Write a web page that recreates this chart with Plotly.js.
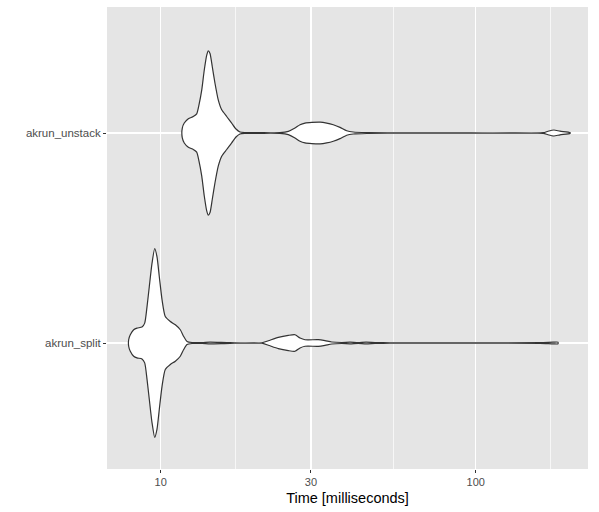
<!DOCTYPE html>
<html>
<head>
<meta charset="utf-8">
<script src="https://cdn.plot.ly/plotly-3.0.1.min.js"></script>
<style>html,body{margin:0;padding:0;background:#fff;}#chart{width:599px;height:512px;}</style>
</head>
<body>
<div id="chart"></div>
<script>
// Categories (bottom to top)
var categories = ["akrun_split", "akrun_unstack"];

// Violin profiles: time (ms) and relative density
var splitTime = [7.912, 8.006, 8.208, 8.408, 8.721, 8.896, 9.049, 9.200, 9.384, 9.572, 9.734, 9.899, 10.10, 10.34, 10.73, 11.13, 11.54, 11.83, 12.12, 12.57, 13.53, 14.34, 16.60, 20.93, 21.96, 23.62, 25.42, 26.69, 27.69, 28.72, 31.65, 33.24, 34.90, 37.54, 39.90, 42.31, 44.85, 47.91, 53.45, 82.86, 160.0, 176.0, 182.5];
var splitDensity = [3.3, 8.3, 13.3, 15, 16, 20, 36.6, 56.6, 80, 95, 86.6, 66.6, 43.3, 26.6, 21.6, 18.3, 13.3, 6.6, 1.6, 0.5, 0.4, 0.8, 0.3, 0.2, 2.3, 5.7, 7.7, 8.3, 5, 3.3, 3.3, 2.3, 1, 0.5, 0.8, 0.4, 0.8, 0.4, 0.25, 0.2, 0.3, 0.8, 0.8];

var unstackTime = [11.71, 11.88, 12.24, 12.69, 13.01, 13.23, 13.50, 13.75, 14.00, 14.16, 14.34, 14.58, 14.87, 15.23, 15.62, 16.20, 16.80, 17.34, 17.85, 18.52, 20.67, 23.91, 25.42, 26.69, 27.69, 28.72, 30.16, 32.05, 33.65, 35.31, 37.09, 38.95, 40.87, 45.08, 53.45, 82.86, 163.9, 169.6, 177.2, 185.2, 199.2];
var unstackDensity = [5, 10, 14.3, 16.6, 19.3, 28.3, 43.3, 63.3, 78.3, 82.6, 80, 66.6, 50, 33.3, 23.3, 16.6, 10, 4, 1, 0.4, 0.3, 0.4, 1.7, 5, 8.3, 10, 10.7, 11, 10, 8.3, 5.7, 2.3, 1, 0.4, 0.25, 0.2, 0.3, 1.8, 3, 1.8, 0.5];

// Axis breaks
var majorBreaks = [10, 30, 100];
var majorLabels = ["10", "30", "100"];
var minorBreaks = [17.32, 54.77, 173.2];

var maxDensity = Math.max.apply(null, splitDensity.concat(unstackDensity));
var halfMax = 0.45;

function violin(times, dens, center) {
  var xs = [], ys = [];
  for (var i = 0; i < times.length; i++) {
    xs.push(times[i]);
    ys.push(center + dens[i] / maxDensity * halfMax);
  }
  for (var j = times.length - 1; j >= 0; j--) {
    xs.push(times[j]);
    ys.push(center - dens[j] / maxDensity * halfMax);
  }
  xs.push(times[0]);
  ys.push(center + dens[0] / maxDensity * halfMax);
  return {
    type: "scatter", mode: "lines", x: xs, y: ys,
    fill: "toself", fillcolor: "#FFFFFF",
    line: {color: "#333333", width: 1.2, shape: "spline", smoothing: 0.6},
    hoverinfo: "skip", showlegend: false
  };
}

var data = [
  violin(splitTime, splitDensity, 1),
  violin(unstackTime, unstackDensity, 2)
];

var layout = {
  width: 599, height: 512,
  margin: {l: 107, r: 11, t: 7, b: 43},
  paper_bgcolor: "#FFFFFF",
  plot_bgcolor: "#E5E5E5",
  font: {family: "Liberation Sans, Arial, sans-serif", color: "#4D4D4D"},
  showlegend: false,
  xaxis: {
    type: "log",
    range: [0.82952, 2.3565],
    tickmode: "array", tickvals: majorBreaks, ticktext: majorLabels,
    showgrid: true, gridcolor: "#FFFFFF", gridwidth: 1.4,
    ticks: "outside", ticklen: 3, tickwidth: 1, tickcolor: "#333333",
    tickfont: {size: 11, color: "#4D4D4D"},
    zeroline: false, showline: false,
    minor: {tickmode: "array", tickvals: minorBreaks, showgrid: true, gridcolor: "#FFFFFF", gridwidth: 0.7, ticks: ""},
    title: {text: "Time [milliseconds]", font: {size: 14.5, color: "#000000"}, standoff: 5}
  },
  yaxis: {
    range: [0.4, 2.6],
    tickmode: "array", tickvals: [1, 2], ticktext: categories,
    showgrid: true, gridcolor: "#FFFFFF", gridwidth: 1.4,
    ticks: "outside", ticklen: 3, tickwidth: 1, tickcolor: "#333333",
    tickfont: {size: 11.5, color: "#4D4D4D"},
    zeroline: false, showline: false, fixedrange: true
  }
};

Plotly.newPlot("chart", data, layout, {staticPlot: true, displayModeBar: false});
</script>
</body>
</html>
